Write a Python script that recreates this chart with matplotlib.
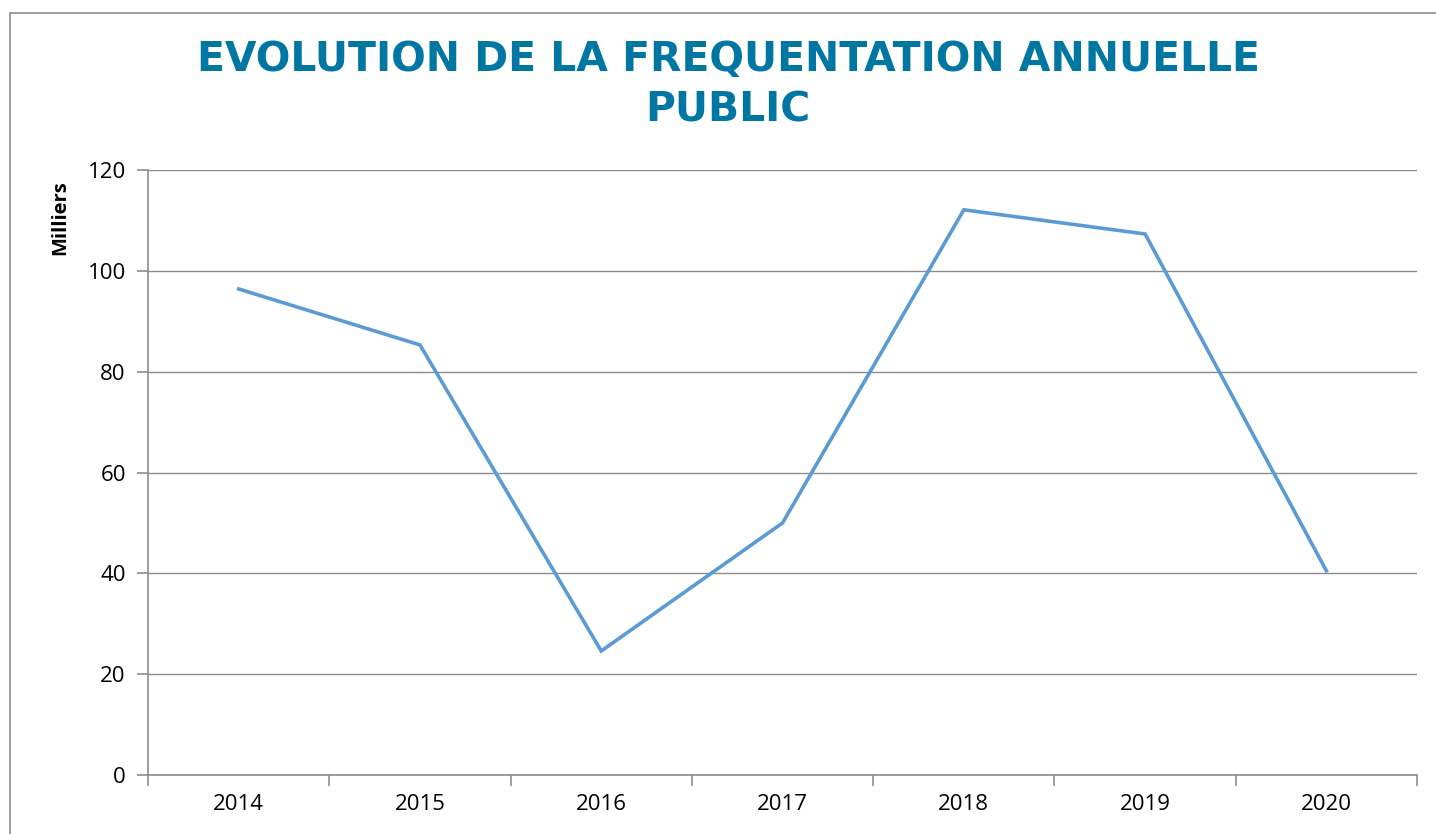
import matplotlib.pyplot as plt
from matplotlib.patches import Rectangle
import numpy as np

years = ['2014', '2015', '2016', '2017', '2018', '2019', '2020']
visitors = [96.4, 85.3, 24.6, 50.0, 112.1, 107.3, 40.5]  # milliers

fig = plt.figure(figsize=(14.36, 8.34), dpi=100)
ax = fig.add_axes([0.1031, 0.0707, 0.8837, 0.7255])

# outer chart frame (only top / left visible in the crop)
fig.patches.append(Rectangle((10 / 1436, -0.1), 1.2, (834 - 13) / 834 + 0.1,
                             transform=fig.transFigure, fill=False,
                             edgecolor='#8c8c8c', linewidth=1.2))

x = np.arange(len(years))
ax.plot(x, visitors, color='#5B9BD5', linewidth=2.6, solid_joinstyle='miter')

ax.set_xlim(-0.5, len(years) - 0.5)
ax.set_ylim(0, 120)
ax.set_yticks(range(0, 121, 20))
ax.set_xticks(x)
ax.set_xticklabels(years)
ax.set_xticks(np.arange(-0.5, len(years)), minor=True)
ax.tick_params(axis='x', which='major', length=0, pad=14, labelsize=16)
ax.tick_params(axis='x', which='minor', length=8, color='#8c8c8c', width=1.2)
ax.tick_params(axis='y', length=8, color='#8c8c8c', width=1.2, pad=8, labelsize=16)

ax.grid(axis='y', color='#8c8c8c', linewidth=1.0)
ax.set_axisbelow(True)
for s in ['top', 'right']:
    ax.spines[s].set_visible(False)
for s in ['left', 'bottom']:
    ax.spines[s].set_color('#8c8c8c')
    ax.spines[s].set_linewidth(1.2)

for lab in ax.get_xticklabels() + ax.get_yticklabels():
    lab.set_fontfamily('Open Sans')

fig.text(60 / 1436, (834 - 218) / 834, 'Milliers', rotation=90, ha='center', va='center',
         fontsize=14.5, fontweight='bold', family='Open Sans')

fig.text(728 / 1436, (834 - 60) / 834, 'EVOLUTION DE LA FREQUENTATION ANNUELLE',
         ha='center', va='center', fontsize=29.4, fontweight='bold', color='#0077A3',
         family='DejaVu Sans')
fig.text(728 / 1436, (834 - 110) / 834, 'PUBLIC',
         ha='center', va='center', fontsize=29.4, fontweight='bold', color='#0077A3',
         family='DejaVu Sans')

fig.savefig('out.png', dpi=100)
